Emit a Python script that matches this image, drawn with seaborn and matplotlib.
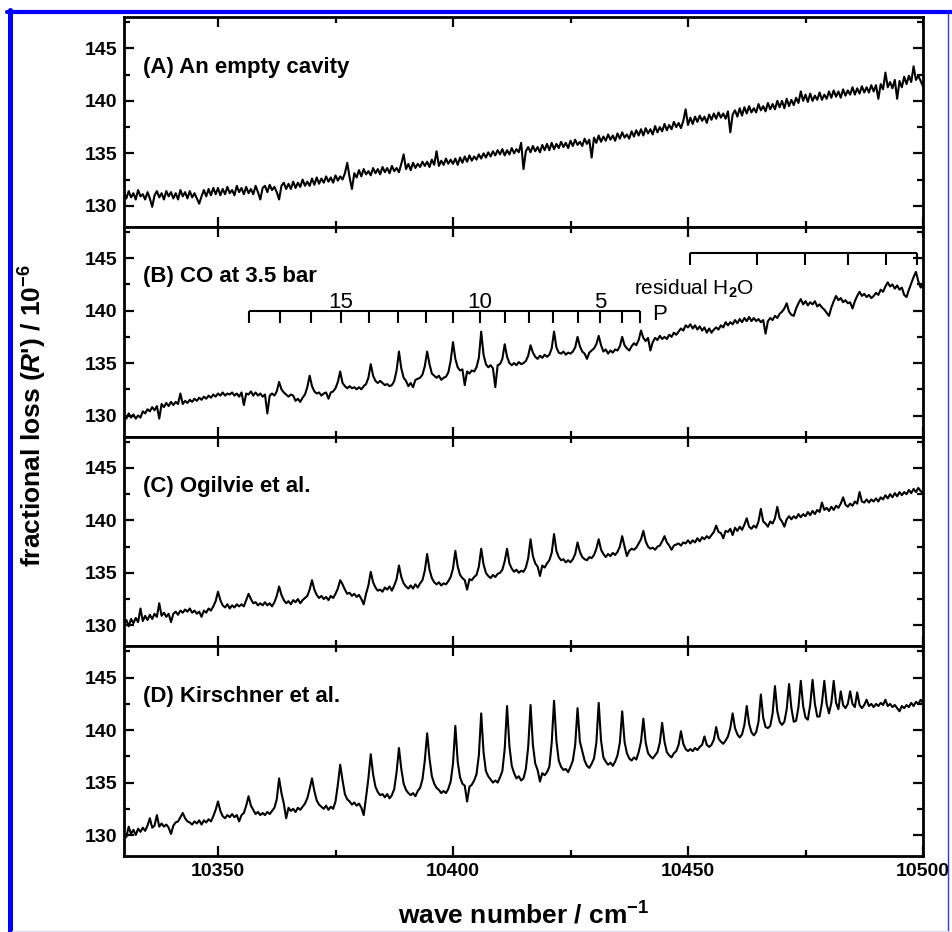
import numpy as np
import pandas as pd
import seaborn as sns
import matplotlib
matplotlib.use("Agg")
import matplotlib.pyplot as plt
from matplotlib.lines import Line2D
from matplotlib.ticker import MultipleLocator

# ---------------- data ----------------
wn_start, wn_stop, wn_step = 10330.0, 10500.0, 0.5
wavenumber = np.arange(wn_start, wn_stop + wn_step / 2, wn_step)

panel_titles = ["(A) An empty cavity", "(B) CO at 3.5 bar",
                "(C) Ogilvie et al.", "(D) Kirschner et al."]

loss_A = [
    131.3, 130.7, 131.4, 130.8, 131.2, 130.6, 131.5, 130.9, 131.1, 130.6, 131.3, 130.7, 129.9, 131.0, 131.4, 130.8, 131.2, 130.6, 131.4, 130.9,
    131.3, 130.7, 131.2, 130.6, 131.5, 130.9, 131.3, 130.7, 131.4, 130.8, 131.2, 130.7, 130.2, 130.9, 131.5, 130.9, 131.6, 131.0, 131.7, 131.1,
    131.7, 131.0, 131.6, 131.1, 131.8, 131.2, 131.5, 131.0, 131.9, 131.3, 131.7, 131.1, 131.8, 131.2, 131.6, 131.1, 131.9, 131.3, 130.6, 131.7,
    131.9, 131.3, 132.0, 131.5, 131.8, 131.3, 130.6, 131.9, 132.2, 131.6, 132.1, 131.6, 132.3, 131.7, 132.2, 131.8, 132.5, 131.9, 132.3, 131.9,
    132.6, 132.0, 132.7, 132.1, 132.6, 132.2, 132.8, 132.3, 132.7, 132.2, 132.9, 132.4, 132.8, 132.5, 133.1, 134.1, 132.7, 131.6, 133.1, 132.7,
    133.4, 132.8, 133.5, 133.0, 133.3, 132.9, 133.6, 133.1, 133.5, 133.0, 133.7, 133.2, 133.6, 133.1, 133.8, 133.3, 133.6, 133.2, 134.0, 134.9,
    133.5, 134.0, 133.4, 134.1, 133.6, 134.0, 133.7, 134.2, 133.8, 134.2, 133.7, 134.4, 133.9, 135.2, 133.8, 134.3, 133.9, 134.5, 134.0, 134.4,
    134.0, 134.5, 133.9, 134.6, 134.1, 134.7, 134.2, 134.8, 134.3, 134.7, 134.4, 134.9, 134.5, 135.0, 134.6, 135.1, 134.7, 135.2, 134.8, 135.3,
    134.9, 135.4, 134.8, 135.3, 134.9, 135.5, 135.0, 135.4, 135.1, 136.0, 133.5, 135.2, 135.6, 135.1, 135.7, 135.2, 135.6, 135.1, 135.8, 135.3,
    135.9, 135.3, 136.0, 135.4, 135.9, 135.5, 136.1, 135.6, 136.0, 135.5, 136.2, 135.7, 136.3, 135.8, 136.1, 135.7, 136.4, 135.9, 136.3, 134.6,
    136.5, 136.0, 136.7, 136.1, 136.6, 136.2, 136.8, 136.3, 136.7, 136.2, 136.9, 136.4, 137.0, 136.5, 136.8, 136.4, 137.1, 136.6, 137.2, 136.7,
    137.3, 136.7, 137.4, 136.9, 137.3, 136.8, 137.6, 137.0, 137.5, 137.1, 137.8, 137.2, 137.7, 137.3, 138.0, 137.5, 137.9, 137.4, 138.1, 139.2,
    137.7, 138.4, 137.8, 138.5, 138.0, 138.6, 138.1, 138.5, 137.9, 138.7, 138.2, 138.8, 138.3, 138.9, 138.4, 138.8, 138.3, 139.0, 137.0, 138.7,
    139.1, 138.5, 139.3, 138.6, 139.4, 138.8, 139.5, 138.9, 139.3, 138.9, 139.7, 139.1, 139.5, 139.0, 139.8, 139.2, 139.7, 139.2, 140.0, 139.4,
    140.0, 139.3, 140.2, 139.5, 140.1, 139.6, 140.3, 139.8, 140.9, 140.0, 140.6, 139.9, 140.7, 140.0, 140.5, 140.1, 140.8, 140.1, 140.6, 140.2,
    140.9, 140.3, 141.0, 140.4, 140.9, 140.3, 141.1, 140.5, 141.0, 140.6, 141.3, 140.6, 141.2, 140.7, 141.4, 140.8, 141.3, 140.8, 141.5, 140.9,
    141.5, 140.2, 141.6, 141.1, 142.7, 141.3, 141.8, 141.2, 142.0, 140.2, 141.9, 141.3, 142.3, 141.6, 142.4, 141.8, 143.3, 142.0, 142.4, 141.9,
    141.4]

loss_B = [
    130.1, 129.7, 130.2, 129.8, 130.1, 129.7, 130.0, 129.8, 130.4, 130.2, 130.6, 130.4, 130.8, 130.5, 130.9, 129.7, 131.1, 130.8, 131.2, 130.9,
    131.3, 131.0, 131.3, 131.1, 132.1, 131.1, 131.4, 131.2, 131.5, 131.3, 131.6, 131.4, 131.7, 131.5, 131.8, 131.6, 131.9, 131.7, 132.0, 131.8,
    132.1, 131.9, 132.2, 131.9, 132.1, 132.0, 132.2, 131.9, 132.1, 131.8, 132.2, 131.0, 132.1, 132.0, 132.3, 131.9, 132.2, 131.9, 132.1, 131.8,
    132.0, 130.2, 131.9, 132.1, 131.9, 132.3, 133.2, 132.5, 132.2, 132.0, 131.8, 132.0, 131.9, 131.4, 131.6, 131.3, 131.7, 132.0, 132.7, 133.8,
    132.8, 132.3, 132.1, 132.2, 131.9, 132.1, 132.2, 131.6, 132.2, 132.3, 132.6, 133.2, 134.2, 133.1, 132.8, 132.6, 132.8, 132.6, 132.7, 132.5,
    132.7, 132.5, 132.8, 133.0, 133.6, 134.9, 133.8, 133.3, 133.1, 133.3, 133.1, 132.9, 133.0, 132.8, 132.9, 133.3, 134.3, 136.1, 134.5, 133.6,
    133.3, 132.8, 133.1, 132.7, 133.4, 133.5, 133.6, 133.9, 134.7, 136.1, 134.9, 134.0, 133.8, 133.6, 133.8, 133.4, 133.6, 133.7, 134.1, 135.2,
    137.0, 135.4, 134.6, 134.3, 134.4, 132.9, 134.2, 134.0, 134.3, 134.2, 134.6, 135.5, 138.0, 135.8, 134.9, 134.6, 134.8, 134.5, 132.7, 134.8,
    134.9, 135.4, 136.8, 135.6, 135.0, 134.8, 135.0, 134.8, 135.1, 134.9, 135.0, 135.2, 135.7, 136.7, 136.0, 135.6, 135.4, 135.7, 135.5, 135.8,
    135.6, 135.8, 136.4, 138.0, 136.5, 136.0, 135.9, 136.1, 135.8, 136.0, 135.9, 136.1, 136.5, 137.5, 136.6, 136.1, 135.9, 135.4, 136.0, 136.2,
    136.4, 136.8, 137.6, 136.7, 136.1, 136.3, 135.9, 136.2, 136.0, 136.3, 136.2, 136.6, 137.5, 136.7, 136.4, 136.2, 136.6, 136.9, 136.7, 137.2,
    138.1, 137.4, 137.1, 137.4, 136.2, 137.0, 137.4, 137.2, 137.6, 137.3, 137.5, 137.3, 137.7, 137.5, 137.9, 137.7, 138.0, 138.3, 138.1, 138.6,
    138.4, 138.7, 138.3, 138.6, 138.2, 138.5, 138.1, 138.4, 137.9, 138.3, 137.9, 138.2, 138.4, 138.2, 138.6, 138.4, 138.9, 138.6, 138.9, 138.7,
    139.1, 138.8, 139.2, 138.9, 139.3, 139.0, 139.4, 139.0, 139.3, 139.0, 139.2, 138.9, 139.1, 137.8, 139.0, 139.3, 139.1, 139.5, 139.3, 139.7,
    139.9, 140.2, 140.7, 139.9, 139.6, 139.5, 140.2, 140.7, 141.1, 140.6, 140.9, 140.5, 140.8, 140.6, 140.9, 140.4, 140.6, 140.3, 140.1, 139.8,
    139.5, 140.3, 140.9, 141.4, 141.0, 141.2, 140.8, 141.0, 140.7, 140.8, 140.2, 140.9, 141.4, 141.8, 141.4, 141.6, 141.3, 141.5, 141.2, 141.4,
    141.7, 141.5, 142.0, 141.8, 142.3, 142.7, 142.3, 142.5, 142.1, 142.4, 142.0, 142.2, 141.5, 141.3, 142.0, 142.6, 143.2, 143.7, 142.8, 142.2,
    142.5]

loss_C = [
    130.0, 130.5, 129.9, 130.6, 130.2, 130.7, 130.3, 131.6, 130.4, 130.9, 130.5, 131.0, 130.6, 131.1, 130.8, 132.1, 130.9, 131.2, 130.8, 131.1,
    130.3, 131.1, 131.3, 131.0, 131.4, 131.2, 131.5, 131.3, 131.6, 131.2, 131.4, 131.1, 131.3, 130.8, 131.4, 131.2, 131.6, 131.4, 131.8, 132.3,
    133.2, 132.4, 131.9, 131.7, 132.0, 131.6, 131.9, 131.7, 132.0, 131.8, 132.0, 131.8, 132.4, 133.0, 132.5, 132.1, 132.2, 131.9, 132.1, 131.9,
    132.2, 131.9, 132.1, 131.8, 132.2, 132.8, 133.7, 132.9, 132.4, 132.1, 132.3, 132.0, 132.4, 132.2, 132.5, 132.1, 132.4, 132.6, 132.8, 133.4,
    134.3, 133.4, 132.9, 132.6, 132.8, 132.5, 132.7, 132.4, 132.8, 132.6, 133.0, 133.5, 134.3, 133.9, 133.4, 133.0, 133.1, 132.8, 133.0, 132.7,
    132.9, 132.5, 132.0, 133.0, 133.8, 135.1, 134.1, 133.6, 133.3, 133.4, 133.2, 133.6, 133.4, 133.7, 133.3, 133.8, 134.4, 135.7, 134.6, 134.0,
    133.7, 133.5, 133.8, 133.5, 133.9, 133.6, 134.0, 134.3, 135.2, 136.8, 135.3, 134.5, 134.1, 133.9, 134.1, 133.8, 134.0, 133.9, 134.2, 134.6,
    135.4, 137.1, 135.6, 134.8, 134.5, 134.3, 133.4, 134.4, 134.3, 134.6, 134.8, 135.6, 137.3, 135.8, 135.0, 134.7, 134.5, 134.8, 134.6, 134.9,
    135.0, 135.3, 136.1, 137.3, 135.9, 135.4, 135.1, 135.3, 135.0, 135.2, 135.1, 135.5, 136.4, 138.2, 136.6, 135.9, 135.6, 134.7, 135.7, 135.5,
    135.9, 136.2, 136.9, 138.7, 137.1, 136.5, 136.2, 136.3, 136.0, 136.2, 136.0, 136.3, 136.8, 137.9, 137.0, 136.5, 136.3, 136.2, 136.5, 136.4,
    136.7, 137.3, 138.2, 137.2, 136.8, 136.5, 136.8, 136.6, 136.9, 136.7, 137.0, 137.5, 138.5, 137.5, 136.6, 137.1, 137.3, 137.2, 137.4, 137.8,
    138.2, 139.0, 138.0, 137.5, 137.3, 137.4, 137.2, 137.5, 137.6, 138.0, 138.5, 137.9, 137.6, 137.2, 137.6, 137.7, 137.8, 137.6, 137.9, 137.8,
    138.1, 137.8, 138.1, 137.9, 138.3, 138.0, 138.4, 138.2, 138.5, 138.3, 138.6, 138.9, 139.5, 138.9, 138.8, 138.3, 139.0, 138.9, 139.2, 138.6,
    139.3, 139.0, 139.4, 139.1, 139.6, 140.2, 139.4, 139.2, 139.5, 139.3, 139.9, 141.1, 139.9, 139.7, 139.4, 139.9, 139.7, 140.2, 141.3, 140.2,
    139.9, 139.4, 140.1, 140.4, 140.1, 140.4, 140.2, 140.6, 140.3, 140.6, 140.4, 140.8, 140.5, 140.9, 140.6, 141.0, 140.8, 141.7, 141.0, 141.2,
    140.9, 141.3, 141.0, 141.4, 141.2, 141.6, 142.2, 141.5, 141.3, 141.6, 141.4, 141.8, 141.6, 142.7, 141.8, 141.7, 142.0, 141.7, 142.0, 141.8,
    142.1, 141.8, 142.2, 142.0, 142.4, 142.1, 142.5, 142.2, 142.6, 142.3, 142.7, 142.4, 142.7, 142.5, 142.9, 142.6, 143.0, 142.7, 143.1, 142.8,
    142.6]

loss_D = [
    130.1, 129.8, 130.8, 130.1, 130.5, 130.0, 130.6, 130.3, 130.7, 130.4, 130.9, 131.6, 130.7, 130.9, 131.9, 130.8, 131.1, 130.8, 131.0, 130.7,
    130.1, 130.9, 131.2, 131.3, 131.7, 132.1, 131.6, 131.3, 131.2, 131.0, 131.3, 131.1, 131.4, 131.0, 131.4, 131.2, 131.5, 131.3, 131.8, 132.4,
    133.2, 132.3, 131.8, 131.6, 131.9, 131.7, 132.0, 131.7, 131.9, 131.3, 131.9, 132.1, 132.8, 133.7, 132.8, 132.4, 132.0, 132.2, 131.9, 132.1,
    131.9, 132.2, 132.0, 132.3, 132.6, 133.4, 135.4, 134.0, 133.0, 131.6, 132.6, 132.3, 132.5, 132.2, 132.6, 132.4, 132.7, 133.0, 133.5, 134.4,
    135.4, 134.2, 133.3, 132.9, 132.7, 132.5, 132.8, 132.4, 132.7, 132.5, 133.2, 134.8, 136.7, 135.2, 133.9, 133.4, 133.2, 132.9, 133.1, 132.8,
    133.0, 132.6, 131.9, 133.6, 135.4, 137.7, 135.8, 134.6, 134.1, 133.8, 133.9, 133.6, 133.9, 133.5, 133.8, 134.4, 136.0, 138.3, 136.3, 134.9,
    134.3, 134.0, 133.8, 134.0, 133.7, 134.2, 134.5, 135.3, 137.1, 139.7, 137.3, 135.6, 134.9, 134.5, 134.3, 134.0, 134.2, 134.0, 134.4, 135.1,
    136.8, 140.4, 137.0, 135.5, 134.9, 134.7, 133.2, 134.6, 134.8, 135.2, 135.8, 137.6, 141.6, 137.9, 136.1, 135.6, 135.3, 135.0, 135.2, 135.0,
    135.5, 136.1, 138.2, 142.3, 138.5, 136.6, 135.9, 135.4, 135.6, 135.2, 135.4, 136.3, 138.4, 142.4, 138.6, 136.8, 136.2, 135.1, 135.9, 135.7,
    136.0, 136.5, 138.8, 142.8, 139.0, 137.1, 136.5, 136.2, 136.3, 136.0, 136.5, 137.1, 138.6, 142.1, 138.9, 138.0, 137.1, 136.6, 136.4, 136.8,
    137.3, 138.8, 142.6, 139.0, 137.4, 137.0, 136.7, 136.9, 136.6, 137.0, 137.6, 138.8, 141.8, 138.9, 137.8, 137.3, 137.1, 137.4, 137.2, 137.9,
    138.9, 141.1, 138.8, 137.8, 137.5, 137.3, 137.6, 137.9, 138.8, 140.7, 138.9, 137.9, 137.6, 137.4, 137.8, 138.0, 138.6, 139.9, 138.7, 138.2,
    138.0, 138.2, 138.0, 138.3, 138.1, 138.4, 138.6, 139.4, 138.6, 138.4, 138.6, 139.1, 140.3, 139.2, 138.9, 138.7, 139.0, 139.4, 140.2, 141.6,
    140.2, 139.6, 139.3, 139.6, 140.5, 142.3, 140.6, 139.8, 139.5, 139.8, 140.8, 143.4, 141.2, 140.3, 140.2, 140.4, 141.6, 144.2, 141.8, 140.8,
    140.5, 140.8, 142.0, 144.4, 142.1, 140.8, 140.9, 142.2, 144.7, 142.3, 141.2, 141.0, 142.4, 144.8, 142.5, 141.3, 141.3, 142.6, 144.7, 142.5,
    141.6, 142.6, 144.7, 142.6, 142.0, 143.7, 142.4, 142.1, 142.5, 143.7, 142.5, 142.2, 143.6, 142.4, 142.1, 142.4, 142.9, 142.3, 142.5, 142.2,
    142.5, 142.3, 142.6, 142.4, 142.9, 142.3, 142.5, 142.2, 142.4, 142.1, 141.8, 142.3, 142.1, 142.4, 142.2, 142.6, 142.3, 142.7, 142.5, 142.9,
    142.6]

# CO P-branch assignment comb (panel B) and residual water comb
co_line_positions = [10356.5, 10363.2, 10369.7, 10376.1, 10382.2, 10388.2, 10394.3, 10399.9,
                     10405.7, 10411.0, 10416.2, 10421.3, 10426.6, 10431.3, 10435.9, 10439.8]
co_labels = ["15", "10", "5"]
co_label_positions = [10376.1, 10405.7, 10431.3]
co_comb_level = 140.0
h2o_line_positions = [10450.4, 10464.6, 10474.9, 10484.0, 10492.1, 10498.7]
h2o_comb_level = 145.5

y_ticks = [130, 135, 140, 145]
x_ticks = [10350, 10400, 10450, 10500]

series = [loss_A, loss_B, loss_C, loss_D]
for s in series:
    assert len(s) == len(wavenumber), len(s)

frames = []
for title, vals in zip(panel_titles, series):
    frames.append(pd.DataFrame({"wavenumber": wavenumber, "loss": vals, "panel": title}))
df = pd.concat(frames, ignore_index=True)

# ---------------- styling ----------------
sns.set_style("ticks")
plt.rcParams.update({
    "font.family": ["Liberation Sans", "DejaVu Sans"],
    "font.weight": "bold",
    "mathtext.fontset": "custom",
    "mathtext.rm": "Liberation Sans",
    "mathtext.it": "Liberation Sans:italic:bold",
    "mathtext.bf": "Liberation Sans:bold",
    "axes.linewidth": 2.0,
    "axes.edgecolor": "black",
    "text.color": "black",
    "axes.labelcolor": "black",
    "xtick.color": "black",
    "ytick.color": "black",
})

fig, axes = plt.subplots(4, 1, figsize=(9.52, 9.32), dpi=100, sharex=True)
fig.subplots_adjust(left=124 / 952, right=923 / 952, top=1 - 17 / 932,
                    bottom=1 - 856 / 932, hspace=0)

for i, (ax, title) in enumerate(zip(axes, panel_titles)):
    sub = df[df["panel"] == title]
    sns.lineplot(data=sub, x="wavenumber", y="loss", ax=ax, color="black",
                 linewidth=1.5, estimator=None, sort=False, legend=False)
    ax.set_xlim(10330, 10500)
    ax.set_ylim(128, 148)
    ax.set_yticks(y_ticks)
    ax.yaxis.set_minor_locator(MultipleLocator(2.5))
    ax.set_xticks(x_ticks)
    ax.xaxis.set_minor_locator(MultipleLocator(25))
    ax.tick_params(which="both", direction="in", top=True, right=True,
                   width=1.6, labelsize=14, pad=5, colors="black")
    ax.tick_params(which="major", length=7)
    ax.tick_params(which="minor", length=4.5)
    ax.set_xlabel("")
    ax.set_ylabel("")
    for lab in ax.get_yticklabels() + ax.get_xticklabels():
        lab.set_fontweight("bold")
    for sp in ax.spines.values():
        sp.set_visible(True)
        sp.set_linewidth(2.0)
        sp.set_color("black")
    ax.text(10334.0, 142.7, title, fontsize=16, fontweight="bold",
            ha="left", va="baseline", color="black")
    if i < 3:
        ax.tick_params(labelbottom=False)

# combs in panel B
axB = axes[1]
axB.hlines(co_comb_level, co_line_positions[0], co_line_positions[-1],
           color="black", lw=1.5)
axB.vlines(co_line_positions, co_comb_level - 1.2, co_comb_level,
           color="black", lw=1.5)
for lab, pos in zip(co_labels, co_label_positions):
    axB.text(pos, co_comb_level + 0.3, lab, fontsize=16, fontweight="normal",
             ha="center", va="baseline", color="black")
axB.text(10444.0, 139.1, "P", fontsize=16, fontweight="normal",
         ha="center", va="baseline", color="black")
axB.hlines(h2o_comb_level, h2o_line_positions[0], h2o_line_positions[-1],
           color="black", lw=1.5)
axB.vlines(h2o_line_positions, h2o_comb_level - 1.1, h2o_comb_level,
           color="black", lw=1.5)
axB.text(10451.3, 141.5, r"residual H$_2$O", fontsize=15, fontweight="normal",
         ha="center", va="baseline", color="black")

# axis labels
fig.text(0.035, 0.554, r"fractional loss ($\mathit{R}$') / 10$^{\mathbf{-6}}$",
         rotation=90, fontsize=19, fontweight="bold", ha="center", va="center",
         color="black")
fig.text(0.55, 0.009, r"wave number / cm$^{\mathbf{-1}}$",
         fontsize=19, fontweight="bold", ha="center", va="baseline",
         color="black")

# blue frame around the figure
fig.add_artist(Line2D([7 / 952, 1.0], [1 - 12 / 932, 1 - 12 / 932],
                      transform=fig.transFigure, color="#0000ff", lw=3.0))
fig.add_artist(Line2D([9.8 / 952, 9.8 / 952], [0.0, 1 - 10 / 932],
                      transform=fig.transFigure, color="#0000ff", lw=3.6))
fig.add_artist(Line2D([948 / 952, 948 / 952], [0.0, 1 - 12 / 932],
                      transform=fig.transFigure, color="#3030ff", lw=1.0))
fig.add_artist(Line2D([12 / 952, 948 / 952], [1.2 / 932, 1.2 / 932],
                      transform=fig.transFigure, color="#dcdcf0", lw=1.0))

fig.savefig("out.png", dpi=100)
